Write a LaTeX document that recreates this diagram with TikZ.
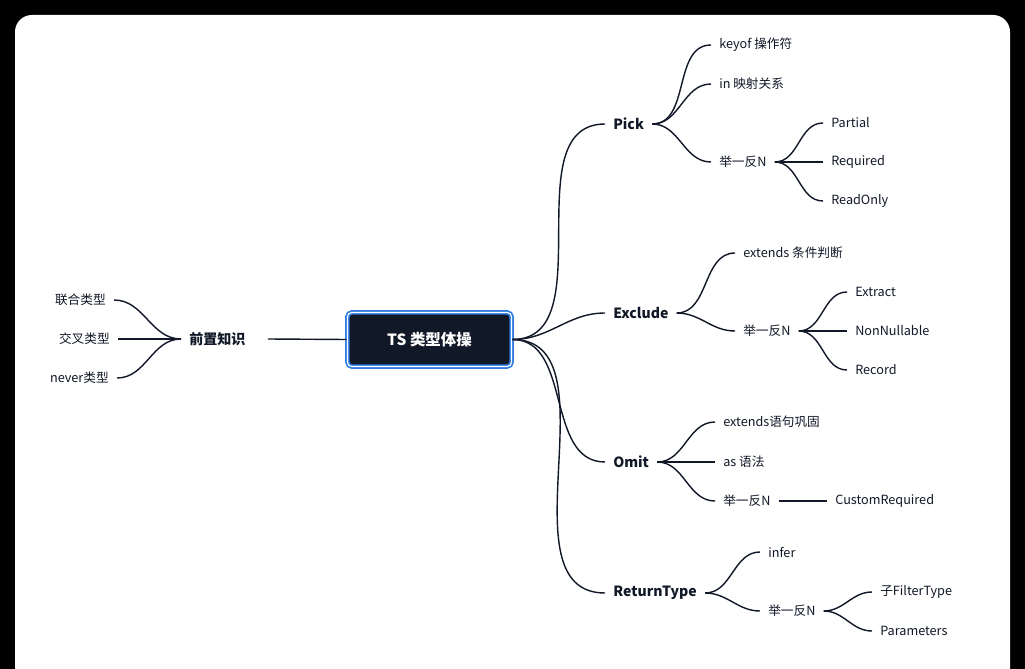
\documentclass[tikz,border=0pt]{standalone}
\usepackage{fontspec}
\setmainfont{Noto Sans CJK SC}
\usepackage{tikz}
\usetikzlibrary{positioning}
\definecolor{ink}{HTML}{111827}
\definecolor{rim}{HTML}{2F7DE1}
\tikzset{
  leaf/.style={anchor=west,inner xsep=5.7pt,inner ysep=1pt,font=\fontsize{9}{10}\selectfont,text=ink},
  branch/.style={leaf,font=\fontsize{10}{12}\selectfont\bfseries},
  link/.style={draw=ink,line width=1pt},
}
\begin{document}
\begin{tikzpicture}[x=0.025cm,y=-0.025cm]
  \useasboundingbox (0,0) rectangle (1025,669);
  % background card
  \fill[black] (0,0) rectangle (1025,669);
  \fill[white,rounded corners=12pt] (15,15) rectangle (1010,700);
  % root
  \node[fill=ink,draw=rim,line width=1.2pt,rounded corners=3pt,double=white,double distance=0.8pt,
        minimum width=163\pgflinewidth,text=white,font=\fontsize{11}{13}\selectfont\bfseries,
        minimum width=4.1cm,minimum height=1.35cm] (root) at (429.5,339.5) {TS 类型体操};
  % left side
  \node[branch] (pre) at (181,339) {前置知识};
  \draw[link] (pre.east) ++(14,0) coordinate (pre-r) -- (root.west);
  \node[leaf,anchor=east] (union) at (114,300) {联合类型};
  \node[leaf,anchor=east] (cross) at (118,339) {交叉类型};
  \node[leaf,anchor=east] (never) at (117,378) {never类型};
  \foreach \n in {union,cross,never}
    \draw[link] (pre.west) to[out=180,in=0] (\n.east);
  % branches
  \node[branch] (pick) at (605,124) {Pick};
  \node[branch] (excl) at (605,313) {Exclude};
  \node[branch] (omit) at (605,462) {Omit};
  \node[branch] (ret) at (605,593) {ReturnType};
  \foreach \n in {pick,excl,omit,ret}
    \draw[link] (root.east) to[out=0,in=180] (\n.west);
  % Pick
  \node[leaf] (keyof) at (711,45) {keyof 操作符};
  \node[leaf] (in) at (711,84) {in 映射关系};
  \node[leaf] (pickn) at (711,162) {举一反N};
  \foreach \n in {keyof,in,pickn}
    \draw[link] (pick.east) to[out=0,in=180] (\n.west);
  \node[leaf] (partial) at (823,123) {Partial};
  \node[leaf] (required) at (823,162) {Required};
  \node[leaf] (readonly) at (823,201) {ReadOnly};
  \foreach \n in {partial,required,readonly}
    \draw[link] (pickn.east) to[out=0,in=180] (\n.west);
  % Exclude
  \node[leaf] (extends) at (735,253) {extends 条件判断};
  \node[leaf] (excln) at (735,331) {举一反N};
  \foreach \n in {extends,excln}
    \draw[link] (excl.east) to[out=0,in=180] (\n.west);
  \node[leaf] (extract) at (847,292) {Extract};
  \node[leaf] (nonnull) at (847,331) {NonNullable};
  \node[leaf] (record) at (847,370) {Record};
  \foreach \n in {extract,nonnull,record}
    \draw[link] (excln.east) to[out=0,in=180] (\n.west);
  % Omit
  \node[leaf] (extstmt) at (715,422) {extends语句巩固};
  \node[leaf] (as) at (715,462) {as 语法};
  \node[leaf] (omitn) at (715,501) {举一反N};
  \foreach \n in {extstmt,as,omitn}
    \draw[link] (omit.east) to[out=0,in=180] (\n.west);
  \node[leaf] (custom) at (827,501) {CustomRequired};
  \draw[link] (omitn.east) -- (custom.west);
  % ReturnType
  \node[leaf] (infer) at (760,552) {infer};
  \node[leaf] (retn) at (760,611) {举一反N};
  \foreach \n in {infer,retn}
    \draw[link] (ret.east) to[out=0,in=180] (\n.west);
  \node[leaf] (filter) at (872,592) {子FilterType};
  \node[leaf] (params) at (872,631) {Parameters};
  \foreach \n in {filter,params}
    \draw[link] (retn.east) to[out=0,in=180] (\n.west);
\end{tikzpicture}
\end{document}
